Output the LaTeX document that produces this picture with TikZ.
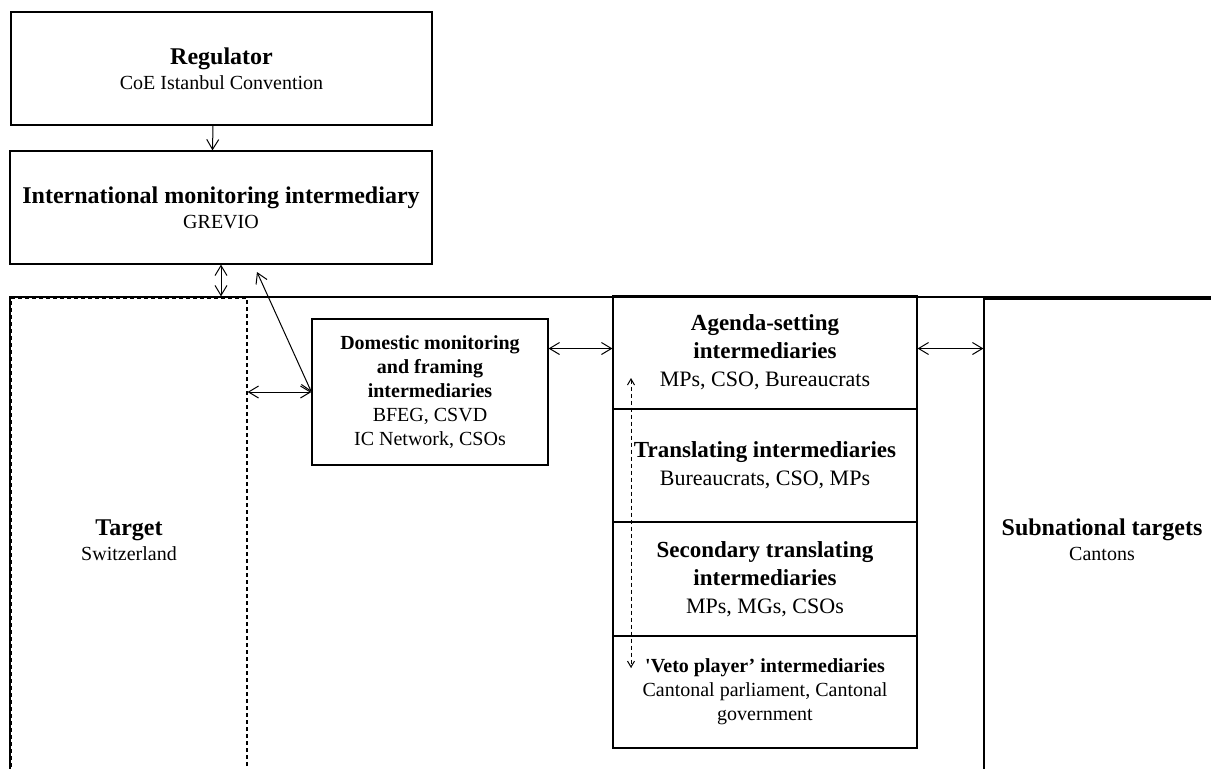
\documentclass[tikz,border=0pt]{standalone}
\usepackage{fontspec}
\setmainfont{Liberation Serif}
\usetikzlibrary{arrows.meta}

\begin{document}
\begin{tikzpicture}[x=0.5pt,y=0.5pt,yscale=-1,xscale=1,
    box/.style={draw, line width=0.6pt, inner sep=0pt, align=center},
    biarrow/.style={{Straight Barb[length=5pt,width=6pt]}-{Straight Barb[length=5pt,width=6pt]}, line width=0.5pt},
    onearrow/.style={-{Straight Barb[length=5pt,width=6pt]}, line width=0.5pt},
    dasharrow/.style={{Straight Barb[length=3pt,width=3.5pt]}-{Straight Barb[length=3pt,width=3.5pt]}, line width=0.5pt, dash pattern=on 2pt off 1.5pt},
    topfont/.style={font=\fontsize{10}{12.5}\selectfont},
    colfont/.style={font=\fontsize{11}{14}\selectfont},
    smallfont/.style={font=\fontsize{10}{12}\selectfont}]

\useasboundingbox (0,0) rectangle (1211,768);
\clip (0,0) rectangle (1211,768);

        %Shape: Rectangle [regulator]
        \node [box, topfont, minimum width=210.5pt, minimum height=56.5pt] (regulator) at (221.5,68.5) {{\fontsize{12}{12.5}\selectfont\bfseries Regulator}\\CoE Istanbul Convention};
        %Shape: Rectangle [monitor]
        \node [box, topfont, minimum width=211pt, minimum height=56.5pt] (monitor) at (221,207.5) {{\fontsize{12}{12.5}\selectfont\bfseries International monitoring intermediary}\\GREVIO};
        %Shape: Rectangle [country]
        \node [box, minimum width=607.5pt, minimum height=243pt] (country) at (617.5,540) {};
        %Shape: Rectangle [target]
        \node [box, topfont, dash pattern=on 2pt off 1.5pt, minimum width=118pt, minimum height=242pt] (target) at (129,540) {{\fontsize{12}{12.5}\selectfont\bfseries Target}\\Switzerland};
        %Shape: Rectangle [subnat]
        \node [box, topfont, minimum width=118pt, minimum height=241pt] (subnat) at (1102,540) {{\fontsize{12}{12.5}\selectfont\bfseries Subnational targets}\\Cantons};
        %Shape: Rectangle [domestic]
        \node [box, smallfont, minimum width=118pt, minimum height=73pt] (domestic) at (430,392) {\textbf{Domestic monitoring}\\\textbf{and framing}\\\textbf{intermediaries}\\BFEG, CSVD\\IC Network, CSOs};
        %Shape: Rectangle [agenda]
        \node [box, colfont, minimum width=152pt, minimum height=56.5pt] (agenda) at (765,352.5) {{\fontsize{11.5}{14}\selectfont\bfseries Agenda-setting}\\{\fontsize{11.5}{14}\selectfont\bfseries intermediaries}\\MPs, CSO, Bureaucrats};
        %Shape: Rectangle [translating]
        \node [box, colfont, minimum width=152pt, minimum height=56.5pt] (translating) at (765,465.5) {{\fontsize{11.5}{13}\selectfont\bfseries Translating intermediaries}\\Bureaucrats, CSO, MPs};
        %Shape: Rectangle [secondary]
        \node [box, colfont, minimum width=152pt, minimum height=57pt] (secondary) at (765,579) {{\fontsize{11.5}{14}\selectfont\bfseries Secondary translating}\\{\fontsize{11.5}{14}\selectfont\bfseries intermediaries}\\MPs, MGs, CSOs};
        %Shape: Rectangle [veto]
        \node [box, smallfont, minimum width=152pt, minimum height=56pt] (veto) at (765,692) {\textbf{\textquotesingle Veto player’ intermediaries}\\Cantonal parliament, Cantonal\\government};

        \coordinate (diagend) at (257,272);
        \coordinate (vetotop) at (631,378);
        \coordinate (vetobottom) at (631,668);

        %Straight Lines
        \draw [onearrow] ([xshift=-4.25pt]regulator.south) -- ([xshift=-4.25pt]monitor.north);
        %Straight Lines
        \draw [biarrow] (monitor.south) -- (monitor.south |- country.north);
        %Straight Lines
        \draw [biarrow] (diagend) -- (domestic.west);
        %Straight Lines
        \draw [biarrow] (target.east |- domestic.west) -- (domestic.west);
        %Straight Lines
        \draw [biarrow] ([yshift=-2pt]domestic.east |- agenda.west) -- ([yshift=-2pt]agenda.west);
        %Straight Lines
        \draw [biarrow] ([yshift=-2pt]agenda.east) -- ([yshift=-2pt]agenda.east -| subnat.west);
        %Straight Lines
        \draw [dasharrow] (vetotop) -- (vetobottom);
\end{tikzpicture}
\end{document}
